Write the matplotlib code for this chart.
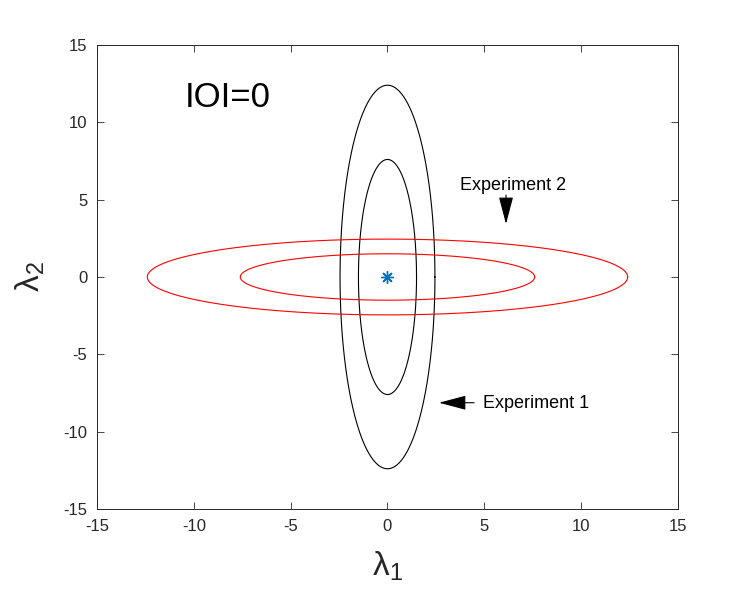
import numpy as np
import matplotlib
matplotlib.use("Agg")
import matplotlib.pyplot as plt

plt.rcParams['font.family'] = ['Liberation Sans', 'DejaVu Sans']
plt.rcParams['mathtext.fontset'] = 'custom'
plt.rcParams['mathtext.rm'] = 'Liberation Sans'
plt.rcParams['axes.unicode_minus'] = False

# Ellipse semi-axes (a along lambda1, b along lambda2)
exp1_a = [1.5, 2.45]
exp1_b = [7.6, 12.4]
exp2_a = [7.6, 12.4]
exp2_b = [1.5, 2.45]
center = (0.0, 0.0)

xticks = [-15, -10, -5, 0, 5, 10, 15]
yticks = [-15, -10, -5, 0, 5, 10, 15]

fig = plt.figure(figsize=(7.5, 6), dpi=100)
ax = fig.add_axes([0.1293, 0.1517, 0.7747, 0.7733])

t = np.linspace(0, 2 * np.pi, 400)
for a, b in zip(exp1_a, exp1_b):
    ax.plot(center[0] + a * np.cos(t), center[1] + b * np.sin(t), color='black', lw=0.8)
for a, b in zip(exp2_a, exp2_b):
    ax.plot(center[0] + a * np.cos(t), center[1] + b * np.sin(t), color='red', lw=0.8)

ax.plot([center[0]], [center[1]], marker=(8, 2, 0), color='#0072BD', markersize=9,
        markeredgewidth=1.0, linestyle='none')

ax.set_xlim(-15, 15)
ax.set_ylim(-15, 15)
ax.set_xticks(xticks)
ax.set_yticks(yticks)
ax.tick_params(direction='in', top=True, right=True, length=5, width=0.6,
               labelsize=12, colors='#262626', pad=7)
for s in ax.spines.values():
    s.set_color('#262626')
    s.set_linewidth(0.7)

ax.set_xlabel(r'λ$_\mathregular{1}$', fontsize=24, labelpad=11, color='#262626')
ax.set_ylabel(r'λ$_\mathregular{2}$', fontsize=24, labelpad=12, color='#262626')

ax.text(-10.45, 11.0, 'IOI=0', fontsize=25, va='baseline', ha='left', color='black')

ax.annotate('', xy=(6.12, 3.43), xytext=(6.12, 5.30),
            arrowprops=dict(arrowstyle='-|>,head_length=1.7,head_width=0.45', color='black',
                            lw=0.8, shrinkA=0, shrinkB=0))
ax.text(3.74, 5.62, 'Experiment 2', fontsize=13, va='baseline', ha='left', color='black')

ax.annotate('', xy=(2.66, -8.13), xytext=(4.47, -8.13),
            arrowprops=dict(arrowstyle='-|>,head_length=1.7,head_width=0.45', color='black',
                            lw=0.8, shrinkA=0, shrinkB=0))
ax.text(4.93, -8.47, 'Experiment 1', fontsize=13, va='baseline', ha='left', color='black')

fig.savefig('out.png', dpi=100, facecolor='white')
